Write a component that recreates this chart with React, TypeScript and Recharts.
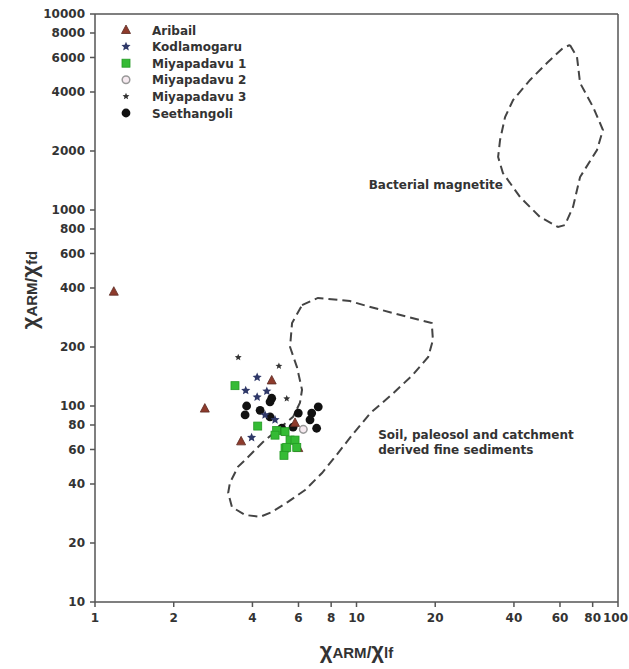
import React from 'react';
import { ScatterChart, Scatter, XAxis, YAxis, ReferenceLine, Legend } from 'recharts';

const FONT = '"DejaVu Sans", sans-serif';
const INK = '#333';
const AXIS = '#555';

const xTicks = [1, 2, 4, 6, 8, 10, 20, 40, 60, 80, 100];
const yTicks = [10, 20, 40, 60, 80, 100, 200, 400, 600, 800, 1000, 2000, 4000, 6000, 8000, 10000];

const seriesNames = ['Aribail', 'Kodlamogaru', 'Miyapadavu 1', 'Miyapadavu 2', 'Miyapadavu 3', 'Seethangoli'];
const seriesKinds = ['tri', 'star', 'square', 'ring', 'dot', 'circle'];

const aribail = [
  { x: 1.18, y: 383 }, { x: 2.63, y: 97 }, { x: 4.74, y: 135 },
  { x: 3.62, y: 66 }, { x: 5.82, y: 82 }, { x: 5.99, y: 61 },
];
const kodlamogaru = [
  { x: 4.17, y: 140 }, { x: 3.77, y: 120 }, { x: 4.54, y: 119 }, { x: 4.17, y: 111 },
  { x: 3.97, y: 69 }, { x: 4.47, y: 90 }, { x: 4.88, y: 85 },
];
const miyapadavu1 = [
  { x: 3.43, y: 127 }, { x: 4.19, y: 79 }, { x: 4.95, y: 75 }, { x: 4.88, y: 71 },
  { x: 5.33, y: 74 }, { x: 5.33, y: 61 }, { x: 5.57, y: 67 }, { x: 5.82, y: 67 },
  { x: 5.41, y: 61.5 }, { x: 5.91, y: 61.5 }, { x: 5.28, y: 56 },
];
const miyapadavu2 = [{ x: 6.26, y: 76 }];
const miyapadavu3 = [{ x: 3.53, y: 177 }, { x: 5.05, y: 160 }, { x: 5.41, y: 109 }];
const seethangoli = [
  { x: 4.74, y: 109.5 }, { x: 3.8, y: 100 }, { x: 3.75, y: 90 }, { x: 4.28, y: 95 },
  { x: 4.67, y: 105 }, { x: 5.25, y: 74.5 }, { x: 7.14, y: 99 }, { x: 5.99, y: 92 },
  { x: 6.74, y: 92 }, { x: 6.64, y: 85 }, { x: 7.04, y: 77 }, { x: 5.72, y: 78 },
  { x: 5.18, y: 77 }, { x: 4.67, y: 88 },
];

// dashed envelopes, closed
const soilField = [
  { x: 6.19, y: 327 }, { x: 7.12, y: 356 }, { x: 9.44, y: 343 }, { x: 11.3, y: 320 },
  { x: 13.8, y: 298 }, { x: 19.4, y: 265 }, { x: 19.6, y: 217 }, { x: 18.8, y: 178 },
  { x: 16.4, y: 144 }, { x: 13.8, y: 116 }, { x: 11.3, y: 92 }, { x: 9.61, y: 71 },
  { x: 8.28, y: 55 }, { x: 7.38, y: 45.5 }, { x: 6.36, y: 37.3 }, { x: 5.47, y: 32.4 },
  { x: 4.75, y: 28.8 }, { x: 4.28, y: 27.2 }, { x: 3.75, y: 27.8 }, { x: 3.34, y: 30.5 },
  { x: 3.23, y: 36 }, { x: 3.28, y: 40.5 }, { x: 3.52, y: 48.9 }, { x: 3.85, y: 54.9 },
  { x: 4.39, y: 65.5 }, { x: 5.72, y: 88 }, { x: 6.08, y: 104 }, { x: 6.19, y: 121 },
  { x: 5.92, y: 158 }, { x: 5.57, y: 200 }, { x: 5.67, y: 265 }, { x: 6.19, y: 327 },
];
const bacterialField = [
  { x: 65.5, y: 6950 }, { x: 69.7, y: 6035 }, { x: 71.6, y: 4446 }, { x: 80.3, y: 3354 },
  { x: 87.6, y: 2560 }, { x: 83.1, y: 2024 }, { x: 71.6, y: 1473 }, { x: 67.3, y: 1036 },
  { x: 62.7, y: 838 }, { x: 59, y: 819 }, { x: 50.3, y: 921 }, { x: 42.2, y: 1165 },
  { x: 36.3, y: 1545 }, { x: 34.8, y: 1864 }, { x: 35.4, y: 2277 }, { x: 37, y: 2982 },
  { x: 39.7, y: 3641 }, { x: 46.1, y: 4607 }, { x: 53.5, y: 5623 }, { x: 61.6, y: 6706 },
  { x: 65.5, y: 6950 },
];

const notes = [
  { x: 12.1, y: 68, lines: ['Soil, paleosol and catchment', 'derived fine sediments'], anchor: 'start' },
  { x: 36.3, y: 1280, lines: ['Bacterial magnetite'], anchor: 'end' },
];

function starPath(cx: number, cy: number, ro: number, ri: number) {
  let d = '';
  for (let i = 0; i < 10; i++) {
    const r = i % 2 === 0 ? ro : ri;
    const a = -Math.PI / 2 + (i * Math.PI) / 5;
    d += (i === 0 ? 'M' : 'L') + (cx + r * Math.cos(a)).toFixed(2) + ',' + (cy + r * Math.sin(a)).toFixed(2);
  }
  return d + 'Z';
}

function Marker({ kind, cx, cy }: { kind: string; cx: number; cy: number }) {
  if (cx == null || cy == null) return <g />;
  switch (kind) {
    case 'tri':
      return <polygon points={`${cx},${cy - 5} ${cx - 4.5},${cy + 3.5} ${cx + 4.5},${cy + 3.5}`} fill="#8e3b2c" stroke="#5b2a22" strokeWidth={0.8} />;
    case 'star':
      return <path d={starPath(cx, cy, 4.8, 2.2)} fill="#2f3868" />;
    case 'square':
      return <rect x={cx - 4} y={cy - 4} width={8} height={8} fill="#35bb35" stroke="#249a24" strokeWidth={0.8} />;
    case 'ring':
      return <circle cx={cx} cy={cy} r={3.8} fill="#f6eaf0" stroke="#999" strokeWidth={1.5} />;
    case 'dot':
      return <path d={starPath(cx, cy, 3.6, 1.6)} fill="#333" />;
    default:
      return <circle cx={cx} cy={cy} r={4.4} fill="#111" />;
  }
}

function LegendBox() {
  return (
    <svg width={140} height={104}>
      {seriesNames.map((name, i) => (
        <g key={name} transform={`translate(0, ${8 + i * 16.6})`}>
          <Marker kind={seriesKinds[i]} cx={8} cy={0} />
          <text x={34} y={4.5} fontFamily={FONT} fontWeight="bold" fontSize={12} fill={INK}>{name}</text>
        </g>
      ))}
    </svg>
  );
}

function NoteShape(p: any) {
  const note = p.payload;
  if (p.cx == null) return <g />;
  return (
    <text x={p.cx} y={p.cy} textAnchor={note.anchor} fontFamily={FONT} fontWeight="bold" fontSize={12} fill={INK}>
      {note.lines.map((l: string, i: number) => (
        <tspan key={i} x={p.cx} dy={i === 0 ? 0 : 15}>{l}</tspan>
      ))}
    </text>
  );
}

// last x label sits against the right edge, as in the original
function XTick(p: any) {
  const v = p.payload?.value;
  const last = v === xTicks[xTicks.length - 1];
  return (
    <text x={p.x} y={p.y} dy={10} textAnchor={last ? 'end' : 'middle'} dx={last ? 10 : 0}
      fontFamily={FONT} fontWeight="bold" fontSize={12} fill={INK}>
      {v}
    </text>
  );
}

function XTitle(props: any) {
  const vb = props.viewBox || { x: 95, y: 602, width: 523 };
  return (
    <text x={vb.x + vb.width / 2} y={658} textAnchor="middle" fontFamily='"Liberation Sans", Arial, sans-serif' fontWeight="bold" fill={INK}>
      <tspan fontSize={22}>χ</tspan>
      <tspan fontSize={15}>ARM</tspan>
      <tspan fontSize={17}>/</tspan>
      <tspan fontSize={22}>χ</tspan>
      <tspan fontSize={15}>lf</tspan>
    </text>
  );
}

function YTitle(props: any) {
  const vb = props.viewBox || { x: 0, y: 14, height: 588 };
  const cx = 37;
  const cy = vb.y + vb.height / 2 - 18;
  return (
    <text x={cx} y={cy} transform={`rotate(-90, ${cx}, ${cy})`} textAnchor="middle" fontFamily='"Liberation Sans", Arial, sans-serif' fontWeight="bold" fill={INK}>
      <tspan fontSize={22}>χ</tspan>
      <tspan fontSize={15}>ARM</tspan>
      <tspan fontSize={17}>/</tspan>
      <tspan fontSize={22}>χ</tspan>
      <tspan fontSize={15}>fd</tspan>
    </text>
  );
}

const tickStyle = { fontSize: 12, fontFamily: FONT, fontWeight: 'bold', fill: INK };
const dashed = { stroke: '#444', strokeWidth: 2, strokeDasharray: '9 5' };
const noDot = () => <g />;

export default function App() {
  return (
    <div style={{ position: 'absolute', left: 0, top: 0, background: '#fff' }}>
      <ScatterChart width={629} height={669} margin={{ top: 14, right: 11, bottom: 0, left: 0 }}>
        <XAxis
          type="number" dataKey="x" scale="log" domain={[1, 100]} ticks={xTicks} interval={0}
          allowDataOverflow height={67} stroke={AXIS} strokeWidth={1.5} tickSize={5} tickMargin={5}
          tick={<XTick />} label={<XTitle />}
        />
        <YAxis
          type="number" dataKey="y" scale="log" domain={[10, 10000]} ticks={yTicks} interval={0}
          allowDataOverflow width={95} stroke={AXIS} strokeWidth={1.5} tickSize={5} tickMargin={5}
          tick={tickStyle} label={<YTitle />}
        />
        <ReferenceLine y={10000} stroke={AXIS} strokeWidth={1.5} />
        <ReferenceLine x={100} stroke={AXIS} strokeWidth={1.5} />

        <Scatter data={soilField} line={dashed} lineType="joint" shape={noDot} isAnimationActive={false} />
        <Scatter data={bacterialField} line={dashed} lineType="joint" shape={noDot} isAnimationActive={false} />
        <Scatter data={notes} shape={NoteShape} isAnimationActive={false} />

        <Scatter name="Seethangoli" data={seethangoli} shape={(p: any) => <Marker kind="circle" cx={p.cx} cy={p.cy} />} isAnimationActive={false} />
        <Scatter name="Kodlamogaru" data={kodlamogaru} shape={(p: any) => <Marker kind="star" cx={p.cx} cy={p.cy} />} isAnimationActive={false} />
        <Scatter name="Miyapadavu 3" data={miyapadavu3} shape={(p: any) => <Marker kind="dot" cx={p.cx} cy={p.cy} />} isAnimationActive={false} />
        <Scatter name="Aribail" data={aribail} shape={(p: any) => <Marker kind="tri" cx={p.cx} cy={p.cy} />} isAnimationActive={false} />
        <Scatter name="Miyapadavu 2" data={miyapadavu2} shape={(p: any) => <Marker kind="ring" cx={p.cx} cy={p.cy} />} isAnimationActive={false} />
        <Scatter name="Miyapadavu 1" data={miyapadavu1} shape={(p: any) => <Marker kind="square" cx={p.cx} cy={p.cy} />} isAnimationActive={false} />

        <Legend
          layout="horizontal" align="center" verticalAlign="middle"
          wrapperStyle={{ left: 118, top: 22, width: 140, height: 104 }}
          content={() => <LegendBox />}
        />
      </ScatterChart>
    </div>
  );
}
